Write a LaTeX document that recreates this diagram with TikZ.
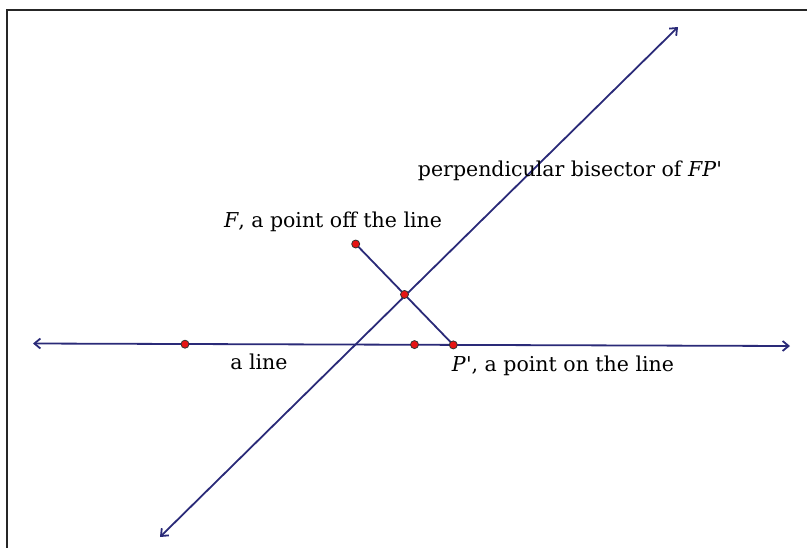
\documentclass[tikz,border=0pt]{standalone}
\usepackage{fontspec}
\setmainfont{DejaVu Serif}
\newfontfamily\plainf{DejaVu Serif}
\usetikzlibrary{arrows.meta,calc}
\definecolor{navy}{RGB}{42,42,120}
\definecolor{ptred}{RGB}{230,20,20}
\newcommand{\aps}{{\plainf\char"0027}}
\tikzset{
  ln/.style={navy, line width=1.8pt},
  arr/.style={ln, {Straight Barb[length=6pt,width=10pt,line width=1.8pt]}-{Straight Barb[length=6pt,width=10pt,line width=1.8pt]}},
  pt/.style={circle, draw=black!80, fill=ptred, line width=0.8pt, inner sep=0pt, minimum size=8pt},
  lbl/.style={font=\fontsize{20.5}{24}\selectfont, inner sep=0pt, text=black}
}
\begin{document}
\begin{tikzpicture}[x=1pt,y=-1pt]
\useasboundingbox (0,0) rectangle (807,547);
\draw[black!85, line width=2pt] (7,560) -- (7,10) -- (820,10);
% coordinates
\coordinate (L1) at (33,343.5);
\coordinate (L2) at (790,346);
\coordinate (B1) at (160,537);
\coordinate (B2) at (678,27);
\coordinate (Fc) at (355.7,244);
\coordinate (Pc) at (453.3,344.9);
% lines
\draw[arr] (L1) -- (L2);
\draw[arr] (B1) -- (B2);
\draw[ln] (Fc) -- (Pc);
% points
\node[pt] (F) at (Fc) {};
\node[pt] (P) at (Pc) {};
\node[pt] (M) at ($(Fc)!0.5!(Pc)$) {};
\node[pt] (A) at (185,344.2) {};
\node[pt] (Q) at (414.5,344.6) {};
% labels
\node[lbl] (t1) at (570,171) {perpendicular bisector of \textit{FP}\aps};
\node[lbl] (t2) at (333,222) {\textit{F}, a point off the line};
\node[lbl] (t3) at (259,362) {a line};
\node[lbl] (t4) at (563,366) {\textit{P}\aps, a point on the line};
\end{tikzpicture}
\end{document}
